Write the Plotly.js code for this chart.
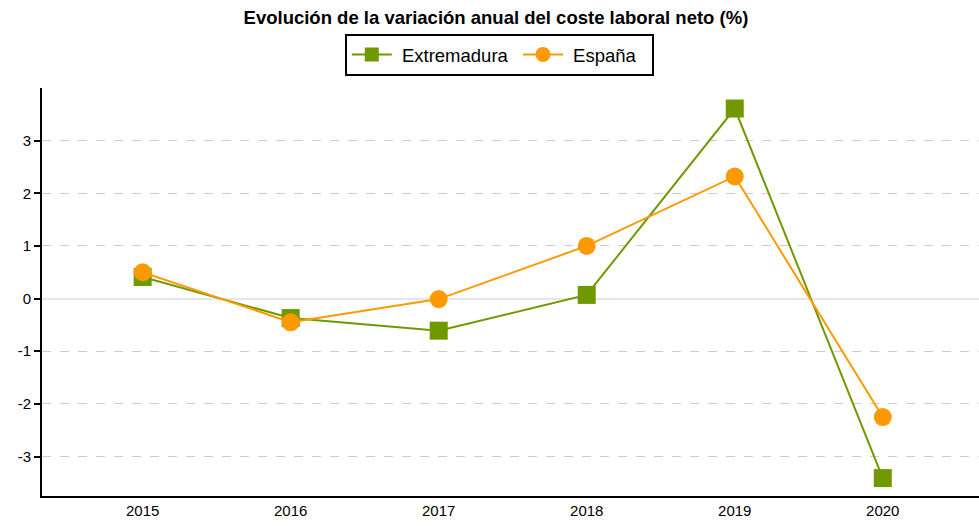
<!DOCTYPE html>
<html><head><meta charset="utf-8">
<script src="https://cdn.plot.ly/plotly-3.0.1.min.js"></script>
<style>html,body{margin:0;padding:0;background:#fff}#c{width:979px;height:529px}</style>
</head><body><div id="c"></div>
<script>
const years = [2015, 2016, 2017, 2018, 2019, 2020];
const extremadura = [0.41, -0.37, -0.61, 0.07, 3.61, -3.41];
const espana = [0.50, -0.45, -0.01, 1.00, 2.32, -2.25];
const yTicks = [-3, -2, -1, 0, 1, 2, 3];
const yTickText = ['-3', '-2', '-1', '0', '1', '2', '3'];
const seriesNames = ['Extremadura', 'España'];

const NB = '\u00a0';
const traces = [
  {x: years, y: extremadura, name: seriesNames[0], type: 'scatter', mode: 'lines+markers', showlegend: false,
   line: {color: '#709900', width: 2}, marker: {symbol: 'square', size: 18, color: '#709900'}},
  {x: years, y: espana, name: seriesNames[1], type: 'scatter', mode: 'lines+markers', showlegend: false,
   line: {color: '#ff9900', width: 2}, marker: {symbol: 'circle', size: 18, color: '#ff9900'}},
  {x: [null], y: [null], name: NB + seriesNames[0] + NB, type: 'scatter', mode: 'lines+markers',
   line: {color: '#709900', width: 2}, marker: {symbol: 'square', size: 14, color: '#709900'}, hoverinfo: 'skip'},
  {x: [null], y: [null], name: NB + seriesNames[1] + NB + NB, type: 'scatter', mode: 'lines+markers',
   line: {color: '#ff9900', width: 2}, marker: {symbol: 'circle', size: 15, color: '#ff9900'}, hoverinfo: 'skip'}
];
const layout = {
  width: 979, height: 529,
  margin: {l: 42, r: 0, t: 88, b: 33},
  paper_bgcolor: '#fff', plot_bgcolor: '#fff',
  font: {family: 'Liberation Sans, Arial, sans-serif', size: 15, color: '#000'},
  title: {text: '<b>Evolución de la variación anual del coste laboral neto (%)</b>',
          font: {size: 18.5, color: '#000'}, x: 0.5066, xref: 'container', xanchor: 'center',
          y: 0.966, yref: 'container', yanchor: 'middle'},
  showlegend: true,
  legend: {orientation: 'h', xref: 'container', yref: 'container', x: 0.51, xanchor: 'center',
           y: 0.936, yanchor: 'top', bordercolor: '#000', borderwidth: 2,
           font: {size: 18.5, color: '#000'}, itemwidth: 40},
  xaxis: {range: [2014.32, 2020.65], tickvals: years, ticktext: years.map(String),
          showgrid: false, zeroline: false, showline: true, linecolor: '#000', linewidth: 2,
          ticks: '', tickfont: {size: 15}},
  yaxis: {range: [-3.75, 4], tickvals: yTicks, ticktext: yTickText, showgrid: true, gridcolor: '#cccccc',
          griddash: 'dash', gridwidth: 1, zeroline: true, zerolinecolor: '#e6e6e6', zerolinewidth: 2,
          showline: true, linecolor: '#000', linewidth: 2, ticks: 'outside', ticklen: 6,
          tickwidth: 2, tickcolor: '#000', tickfont: {size: 15}}
};
Plotly.newPlot('c', traces, layout, {displayModeBar: false});
</script></body></html>
